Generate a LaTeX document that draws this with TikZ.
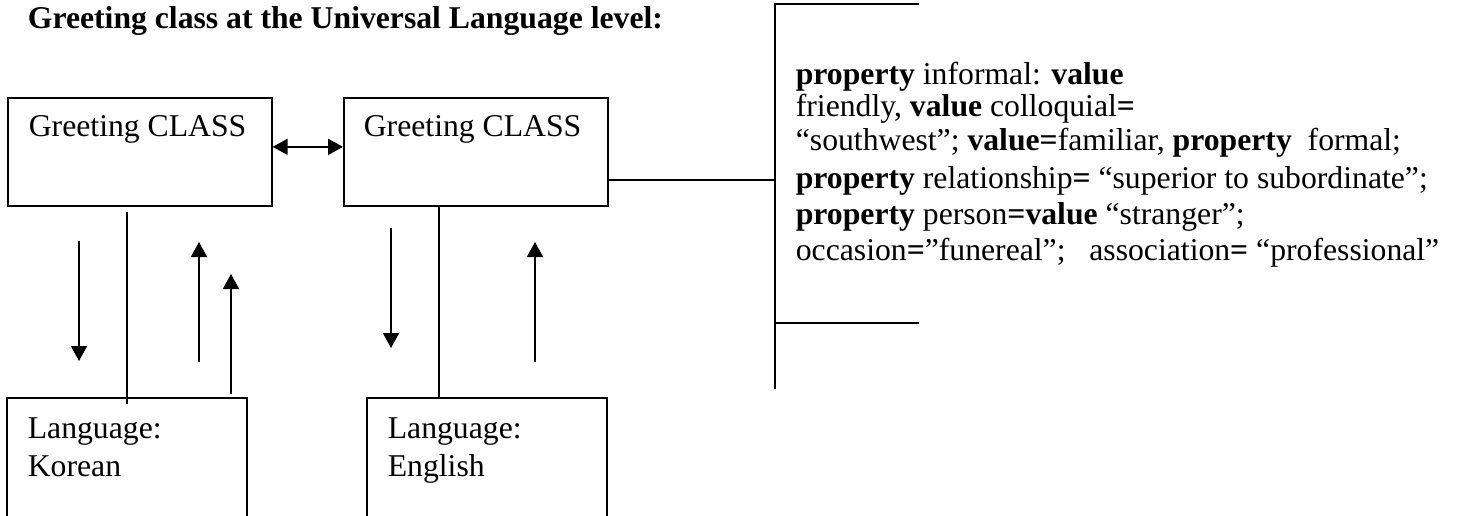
\documentclass[tikz,border=0pt]{standalone}
\usepackage{fontspec}
\setmainfont{Liberation Serif}
\usetikzlibrary{arrows.meta}
\begin{document}
\begin{tikzpicture}[x=1pt,y=-1pt, line width=1.7pt,
  txt/.style={anchor=base west, inner sep=0pt, font=\fontsize{31.7}{36}\selectfont},
  box/.style={draw, anchor=north west, inner sep=0pt},
  arr/.style={-{Triangle[length=15pt,width=16pt]}},
  darr/.style={{Triangle[length=15pt,width=16pt]}-{Triangle[length=15pt,width=16pt]}}]
\useasboundingbox (0,0) rectangle (1460,516);

% title
\node[txt] (title) at (27,29) {\bfseries Greeting class at the Universal Language level:};

% class boxes
\node[box, minimum width=264pt, minimum height=108pt] (b1) at (7,97) {};
\node[box, minimum width=264pt, minimum height=108pt] (b2) at (343,97) {};
\node[txt] (t1) at (28,137) {Greeting CLASS};
\node[txt] (t2) at (363,137) {Greeting CLASS};
\draw[darr] ([yshift=5pt]b1.east) -- ([yshift=5pt]b2.west);

% language boxes (open at the bottom)
\coordinate (kTL) at (7,398); \coordinate (kTR) at (247,398);
\coordinate (eTL) at (367,398); \coordinate (eTR) at (607,398);
\draw (7,516) -- (kTL) -- (kTR) -- (247,516);
\draw (367,516) -- (eTL) -- (eTR) -- (607,516);
\node[txt] (k1) at (27,438) {Language:};
\node[txt] (k2) at (27,476) {Korean};
\node[txt] (e1) at (387,438) {Language:};
\node[txt] (e2) at (387,476) {English};

% connectors between class and language boxes
\coordinate (a1s) at (79,241);  \coordinate (a1e) at (79,361);
\coordinate (l1s) at (127,212); \coordinate (l1e) at (127,404);
\coordinate (a2s) at (199,362); \coordinate (a2e) at (199,242);
\coordinate (a3s) at (231,394); \coordinate (a3e) at (231,274);
\draw[arr] (a1s) -- (a1e);
\draw (l1s) -- (l1e);
\draw[arr] (a2s) -- (a2e);
\draw[arr] (a3s) -- (a3e);

\coordinate (a4s) at (391,228); \coordinate (a4e) at (391,348);
\coordinate (a5s) at (535,362); \coordinate (a5e) at (535,242);
\draw[arr] (a4s) -- (a4e);
\draw (b2.south -| 439,0) -- (eTL -| 439,0);
\draw[arr] (a5s) -- (a5e);

% bracket on the right
\coordinate (vt) at (775,4); \coordinate (vb) at (775,389);
\coordinate (ht) at (919,4);
\coordinate (lm) at (775,323); \coordinate (lr) at (919,323);
\coordinate (cj) at (775,180);
\draw (ht) -- (vt) -- (vb);
\draw (lm) -- (lr);
\draw (b2.east |- cj) -- (cj);

% property text
\node[txt] (p1) at (795,85)  {\textbf{property} informal: \textbf{value}};
\node[txt] (p2) at (795,117) {friendly, \textbf{value} colloquial\textbf{=}};
\node[txt] (p3) at (795,151) {“southwest”; \textbf{value=}familiar, \textbf{property}\ \ formal;};
\node[txt] (p4) at (795,189) {\textbf{property} relationship\textbf{=} “superior to subordinate”;};
\node[txt] (p5) at (795,224) {\textbf{property} person\textbf{=value} “stranger”;};
\node[txt] (p6) at (795,260) {occasion\textbf{=}”funereal”;\ \ \ association\textbf{=} “professional”};
\end{tikzpicture}
\end{document}
